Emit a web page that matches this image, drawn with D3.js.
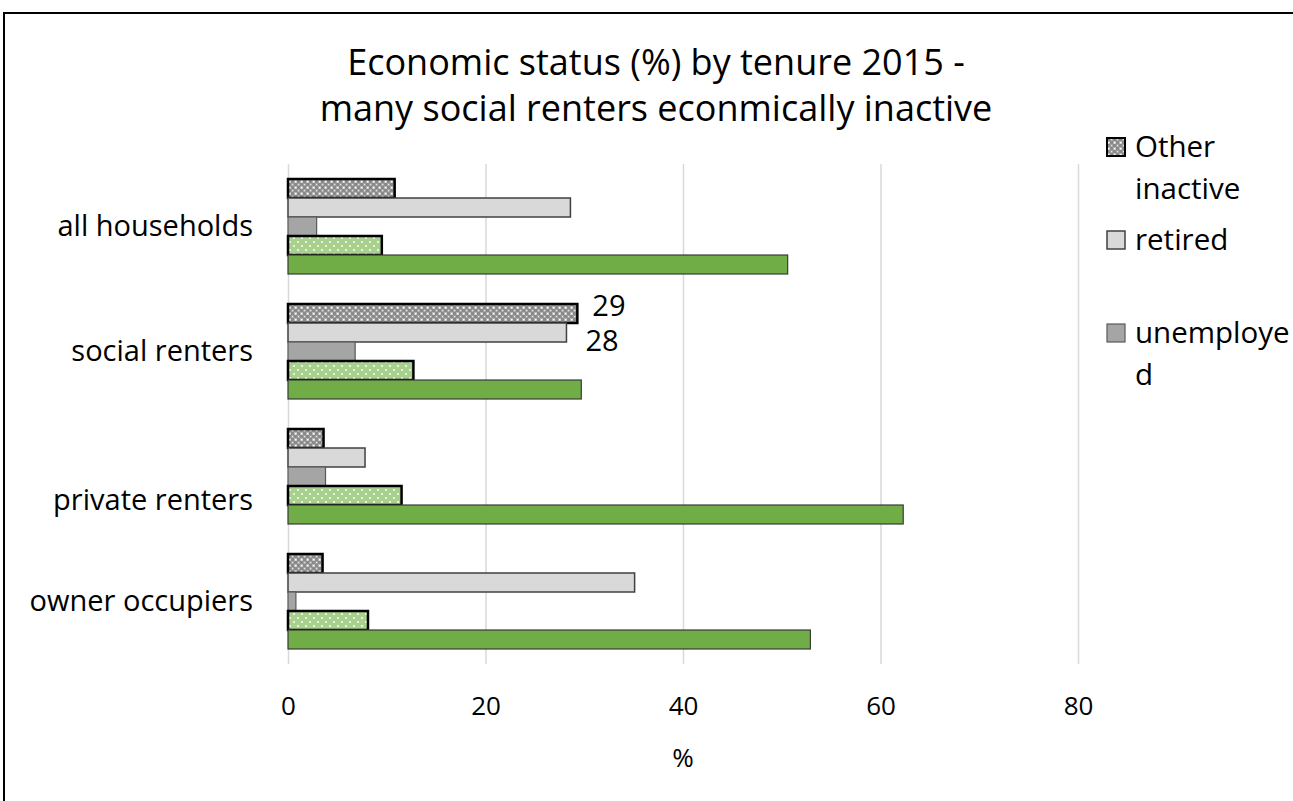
<!DOCTYPE html>
<html lang="en">
    <head>
        <meta charset="utf-8">
        <title>Economic status by tenure 2015</title>
        <script src="https://d3js.org/d3.v7.min.js"></script>
        <style type="text/css">
body{
    margin: 0;
    background-color: #ffffff;
}
text{
    font-family: "Open Sans", "Noto Sans", sans-serif;
    fill: #000000;
}
        </style>
    </head>
    <body>
    <script type="text/javascript">
    //1. Data
    const tenures = ["all households", "social renters", "private renters", "owner occupiers"];
    const seriesNames = ["Other inactive", "retired", "unemployed", "part-time", "full-time"];
    const otherInactive = [10.8, 29.3, 3.6, 3.5];
    const retired = [28.6, 28.2, 7.8, 35.1];
    const unemployed = [2.9, 6.8, 3.8, 0.8];
    const partTime = [9.5, 12.7, 11.5, 8.1];
    const fullTime = [50.6, 29.7, 62.3, 52.9];
    const xTicks = [0, 20, 40, 60, 80];
    const legendNames = ["Other inactive", "retired", "unemployed"];
    const dataLabels = [
        {tenure: "social renters", series: "Other inactive", text: "29"},
        {tenure: "social renters", series: "retired", text: "28"}
    ];

    const seriesValues = [otherInactive, retired, unemployed, partTime, fullTime];
    const data = [];
    tenures.forEach((t, i) => {
        seriesNames.forEach((s, j) => {
            data.push({tenure: t, series: s, value: seriesValues[j][i]});
        });
    });

    //2. Constants for the svg
    const svgWidth = 1293;
    const svgHeight = 801;
    const plot = {left: 288, right: 1078, top: 164, bottom: 664};

    const styles = {
        "Other inactive": {fill: "url(#patGrey)", stroke: "#000000", width: 2.5},
        "retired": {fill: "#d9d9d9", stroke: "#404040", width: 1.5},
        "unemployed": {fill: "#a5a5a5", stroke: "#595959", width: 1.2},
        "part-time": {fill: "url(#patGreen)", stroke: "#000000", width: 2.5},
        "full-time": {fill: "#70ad47", stroke: "#3a3a3a", width: 1.2}
    };

    const svg = d3.select("body")
        .append("svg")
        .attr("width", svgWidth)
        .attr("height", svgHeight);

    //3. Patterns
    const defs = svg.append("defs");
    const pg = defs.append("pattern")
        .attr("id", "patGrey")
        .attr("patternUnits", "userSpaceOnUse")
        .attr("width", 6).attr("height", 6);
    pg.append("rect").attr("width", 6).attr("height", 6).attr("fill", "#8a8a8a");
    pg.append("rect").attr("x", 0).attr("y", 0).attr("width", 3).attr("height", 3).attr("fill", "#b4b4b4");
    pg.append("rect").attr("x", 3).attr("y", 3).attr("width", 3).attr("height", 3).attr("fill", "#a0a0a0");
    pg.append("rect").attr("x", 1).attr("y", 1).attr("width", 1.5).attr("height", 1.5).attr("fill", "#ffffff");
    pg.append("rect").attr("x", 4).attr("y", 4).attr("width", 1.2).attr("height", 1.2).attr("fill", "#e8e8e8");

    const pgr = defs.append("pattern")
        .attr("id", "patGreen")
        .attr("patternUnits", "userSpaceOnUse")
        .attr("width", 8).attr("height", 8);
    pgr.append("rect").attr("width", 8).attr("height", 8).attr("fill", "#a9d18e");
    pgr.append("rect").attr("x", 1).attr("y", 1).attr("width", 2).attr("height", 2).attr("fill", "#e6f2de");
    pgr.append("rect").attr("x", 5).attr("y", 5).attr("width", 2).attr("height", 2).attr("fill", "#e6f2de");

    //4. Frame
    svg.append("rect")
        .attr("x", 4).attr("y", 13)
        .attr("width", svgWidth + 10).attr("height", svgHeight + 10)
        .attr("fill", "none")
        .attr("stroke", "#000000")
        .attr("stroke-width", 2);

    //5. Scales
    const xScale = d3.scaleLinear()
        .domain([0, 80])
        .range([plot.left, plot.right]);

    const yScale = d3.scaleBand()
        .domain(tenures)
        .range([plot.top, plot.bottom])
        .paddingInner(0.24)
        .paddingOuter(0.12);

    const ySeries = d3.scaleBand()
        .domain(seriesNames)
        .range([0, yScale.bandwidth()]);

    //6. Grid lines and x-axis
    const xAxis = d3.axisBottom()
        .scale(xScale)
        .tickValues(xTicks)
        .tickSize(-(plot.bottom - plot.top))
        .tickPadding(33)
        .tickFormat(d => d);

    const gx = svg.append("g")
        .attr("transform", "translate(0," + plot.bottom + ")")
        .call(xAxis);
    gx.select(".domain").remove();
    gx.selectAll("line").attr("stroke", "#d9d9d9").attr("stroke-width", 1.5);
    gx.selectAll("text")
        .attr("font-size", 26)
        .attr("fill", "#000000")
        .attr("font-family", "Open Sans");

    //7. Bars
    svg.append("g")
        .selectAll("rect")
        .data(data)
        .join("rect")
        .attr("x", xScale(0))
        .attr("y", d => yScale(d.tenure) + ySeries(d.series))
        .attr("width", d => xScale(d.value) - xScale(0))
        .attr("height", ySeries.bandwidth())
        .attr("fill", d => styles[d.series].fill)
        .attr("stroke", d => styles[d.series].stroke)
        .attr("stroke-width", d => styles[d.series].width);

    //8. y-axis labels
    const yAxis = d3.axisLeft()
        .scale(yScale)
        .tickSize(0)
        .tickPadding(35);
    const gy = svg.append("g")
        .attr("transform", "translate(" + plot.left + ",0)")
        .call(yAxis);
    gy.select(".domain").remove();
    gy.selectAll("text")
        .attr("font-size", 29)
        .attr("fill", "#000000")
        .attr("font-family", "Open Sans")
        .attr("dy", d => d == "private renters" ? "1.15em" : "0.32em");

    //9. Data labels
    svg.append("g")
        .selectAll("text")
        .data(dataLabels)
        .join("text")
        .attr("x", d => xScale(d3.max(data.filter(e => e.tenure == d.tenure && e.series == d.series), e => e.value)) + (d.series == "retired" ? 19 : 15))
        .attr("y", d => yScale(d.tenure) + ySeries(d.series) + ySeries.bandwidth() / 2 + (d.series == "retired" ? 8 : -8))
        .attr("dy", "0.35em")
        .attr("font-size", 29)
        .text(d => d.text);

    //10. Title
    const title = svg.append("text")
        .attr("x", 656)
        .attr("y", 75)
        .attr("text-anchor", "middle")
        .attr("font-size", 36);
    title.append("tspan").attr("x", 656).text("Economic status (%) by tenure 2015 -");
    title.append("tspan").attr("x", 656).attr("dy", 46).text("many social renters econmically inactive");

    //11. x-axis title
    svg.append("text")
        .attr("x", xScale(40))
        .attr("y", 767)
        .attr("text-anchor", "middle")
        .attr("font-size", 26)
        .text("%");

    //12. Legend
    const legendY = [147, 240, 333];
    const legend = svg.append("g")
        .selectAll("g")
        .data(legendNames)
        .join("g")
        .attr("transform", (d, i) => "translate(1107," + legendY[i] + ")");
    legend.append("rect")
        .attr("x", 0).attr("y", -9)
        .attr("width", 18).attr("height", 18)
        .attr("fill", d => styles[d].fill)
        .attr("stroke", d => styles[d].stroke)
        .attr("stroke-width", d => Math.min(styles[d].width, 2));
    const lt = legend.append("text")
        .attr("x", 28)
        .attr("y", 0)
        .attr("font-size", 29.5);
    lt.each(function(d) {
        const parts = d == "Other inactive" ? ["Other", "inactive"]
            : d == "unemployed" ? ["unemploye", "d"] : [d];
        parts.forEach((p, k) => {
            d3.select(this).append("tspan")
                .attr("x", 28)
                .attr("dy", k == 0 ? "0.35em" : 42)
                .text(p);
        });
    });
    </script>
    </body>
</html>
